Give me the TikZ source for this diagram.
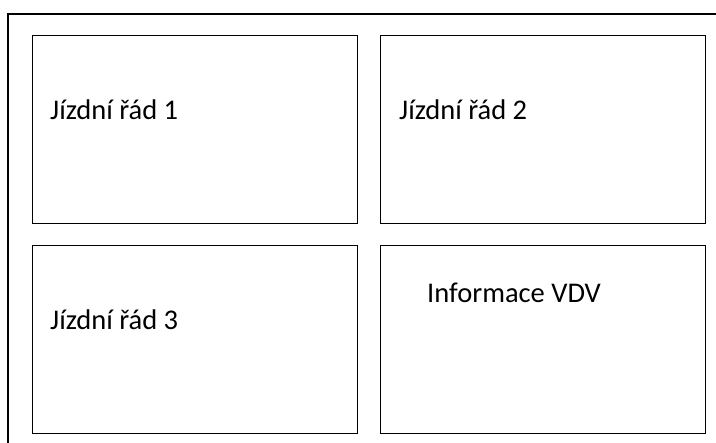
\documentclass[tikz,border=0pt]{standalone}
\usepackage{fontspec}
\setmainfont{Carlito}
\begin{document}
\begin{tikzpicture}[x=1pt,y=-1pt,
  panel/.style={draw=black,line width=1.4pt,minimum width=325pt,minimum height=188pt,inner sep=0pt,anchor=north west},
  caption/.style={anchor=base west,inner sep=0pt,font=\fontsize{28.5}{34}\selectfont}]
\useasboundingbox[fill=white] (0,0) rectangle (716,443);
% frame
\coordinate (frameTR) at (716,14);
\coordinate (frameTL) at (8,14);
\coordinate (frameBL) at (8,443);
\draw[black,line width=1.8pt] (frameTR) -- (frameTL) -- (frameBL);
% panels
\node[panel] (jr1) at (32,35) {};
\node[panel] (jr2) at (380,35) {};
\node[panel] (jr3) at (32,245) {};
\node[panel] (vdv) at (380,245) {};
% texts
\node[caption] (t1) at (50,120) {Jízdní řád 1};
\node[caption] (t2) at (399,120) {Jízdní řád 2};
\node[caption] (t3) at (50,330) {Jízdní řád 3};
\node[caption] (t4) at (427,303) {Informace VDV};
\end{tikzpicture}
\end{document}
